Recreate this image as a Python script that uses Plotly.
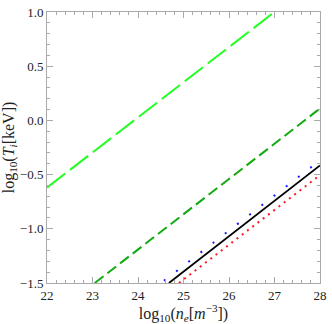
import plotly.graph_objects as go

# straight lines, read as end points (log10 n_e, log10 T_i)
lime_x = [22.0, 27.0]
lime_y = [-0.62, 1.0]
green_x = [23.05, 28.0]
green_y = [-1.5, 0.11]
black_x = [24.68, 28.0]
black_y = [-1.5, -0.415]
blue_x = [24.57, 27.95]
blue_y = [-1.48, -0.385]
red_x = [24.90, 28.0]
red_y = [-1.5, -0.505]

x_ticks = [22, 23, 24, 25, 26, 27, 28]
y_ticks = [-1.5, -1.0, -0.5, 0.0, 0.5, 1.0]

fig = go.Figure()
fig.add_trace(go.Scatter(x=lime_x, y=lime_y, mode="lines",
                         line=dict(color="#22ff22", width=2, dash="23px,6px")))
fig.add_trace(go.Scatter(x=green_x, y=green_y, mode="lines",
                         line=dict(color="#11aa11", width=2, dash="11px,5px")))
fig.add_trace(go.Scatter(x=blue_x, y=blue_y, mode="lines",
                         line=dict(color="#1a1aff", width=2, dash="2px,13.4px")))
fig.add_trace(go.Scatter(x=black_x, y=black_y, mode="lines",
                         line=dict(color="black", width=1.8)))
fig.add_trace(go.Scatter(x=red_x, y=red_y, mode="lines",
                         line=dict(color="#ff1a1a", width=2, dash="2px,4.6px")))

axis = dict(showgrid=False, zeroline=False, showline=True, linecolor="#aaaaaa",
            linewidth=1, mirror="allticks", ticks="inside", ticklen=6,
            tickcolor="#aaaaaa", ticklabeloverflow="allow",
            tickfont=dict(family="Liberation Serif", size=13, color="#222"))

fig.update_layout(
    width=332, height=324,
    margin=dict(l=46, r=6, t=5, b=41),
    plot_bgcolor="white", paper_bgcolor="white",
    showlegend=False,
    font=dict(family="Liberation Serif", color="#222"),
    xaxis=dict(axis, range=[22, 28], tickvals=x_ticks,
               minor=dict(ticks="inside", dtick=0.2, ticklen=3, tickcolor="#aaaaaa"),
               title=dict(text="log<sub>10</sub>(<i>n<sub>e</sub></i>[<i>m</i><sup>−3</sup>])",
                          font=dict(family="Liberation Serif", size=16), standoff=1)),
    yaxis=dict(axis, range=[-1.5, 1.0], tickvals=y_ticks, tickformat=".1f",
               minor=dict(ticks="inside", dtick=0.1, ticklen=3, tickcolor="#aaaaaa"),
               title=dict(text="log<sub>10</sub>(<i>T<sub>i</sub></i>[keV])",
                          font=dict(family="Liberation Serif", size=16), standoff=4)),
)

fig.write_html("out.html", config={"displayModeBar": False},
               post_script="document.body.style.margin='0';document.body.style.overflow='hidden';")
